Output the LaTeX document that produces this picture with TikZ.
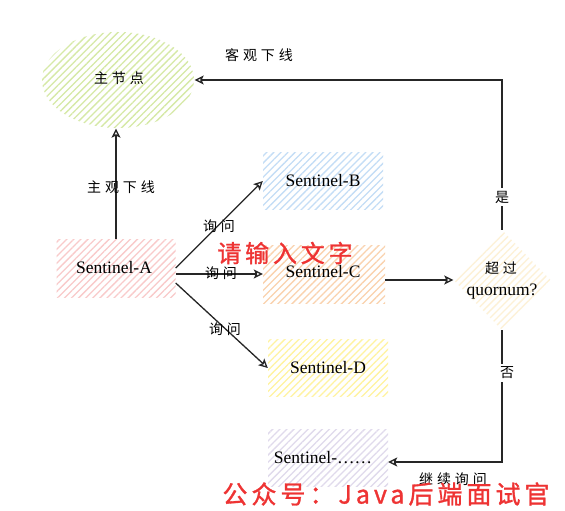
\documentclass[tikz,border=0pt]{standalone}
\usepackage{fontspec}
\setmainfont{Liberation Serif}
\newfontfamily\cjk[LetterSpace=28]{Noto Sans CJK SC}
\newfontfamily\cjkred[LetterSpace=16,FakeBold=1.2]{Noto Sans CJK SC}
\usetikzlibrary{shapes.geometric,patterns.meta,arrows.meta}
\definecolor{hgreen}{HTML}{D6E9A6}
\definecolor{hblue}{HTML}{C4DDF6}
\definecolor{hpink}{HTML}{F9CACA}
\definecolor{hpeach}{HTML}{FAD2AE}
\definecolor{hyellow}{HTML}{FFF3A0}
\definecolor{hlav}{HTML}{E0DAEC}
\definecolor{hcream}{HTML}{FDF1D6}
\definecolor{redtxt}{HTML}{EE3333}
\tikzset{
  hatch/.style={draw=none, pattern={Lines[angle=45,distance=5pt,line width=1.3pt]}, pattern color=#1},
  box/.style={rectangle, minimum width=120pt, minimum height=57pt, inner sep=0pt, font=\fontsize{17.5}{19}\selectfont},
  arr/.style={draw=black!85, line width=1.3pt, -{Stealth[open,length=9pt,width=9pt,inset=2pt]}},
  lab/.style={font=\cjk\fontsize{14}{16}\selectfont, inner sep=1pt},
  txt/.style={font=\fontsize{17.5}{19}\selectfont, inner sep=0pt},
  redlab/.style={font=\cjkred\fontsize{24}{27}\selectfont, text=redtxt, inner sep=0pt},
}
\begin{document}
\begin{tikzpicture}[x=1pt,y=-1pt]
\useasboundingbox[fill=white] (0,0) rectangle (565,511);
% nodes
\node[ellipse, minimum width=152pt, minimum height=96pt, hatch=hgreen] (main) at (118,80) {};
\node[lab] (maint) at (119,78) {主节点};
\node[box, hatch=hpink, minimum width=119pt, minimum height=58pt] (A) at (116,268) {};
\node[txt] (At) at (114,268) {Sentinel-A};
\node[box, hatch=hblue] (B) at (323,181) {Sentinel-B};
\node[box, hatch=hpeach, minimum width=122pt, minimum height=58pt] (C) at (324,274) {};
\node[box, hatch=hyellow] (D) at (328,368) {Sentinel-D};
\node[box, hatch=hlav] (E) at (328,458) {};
\node[txt] (Et) at (323,458) {Sentinel-……};
\node[diamond, minimum width=97pt, minimum height=100pt, inner sep=0pt, hatch=hcream] (Q) at (502,280) {};
\node[lab] (q1) at (501,268) {超过};
\node[txt] (q2) at (502,292) {quornum?};
% connectors
\draw[arr] (A.north) -- (A.north |- main.south);
\draw[arr] (A.east) -- (B.west);
\draw[arr] (A.east |- C.west) -- (C.west);
\draw[arr] ([yshift=-15pt]A.east) -- (D.west);
\draw[arr] (C.east |- Q.west) -- (Q.west);
\draw[arr] (Q.north) -- (Q.north |- main.east) -- (main.east);
\draw[arr] (Q.south) |- ([yshift=-4pt]E.east);
% C text over the arrow
\node[txt] (Ct) at (323,272) {Sentinel-C};
% labels
\node[lab] (l1) at (121,187) {主观下线};
\node[lab] (l2) at (219,226) {询问};
\node[lab] (l3) at (221,273) {询问};
\node[lab] (l4) at (225,329) {询问};
\node[lab] (l5) at (259,55) {客观下线};
\node[lab, fill=white, inner sep=3pt] (l6) at (502,197) {是};
\node[lab, fill=white, inner sep=3pt] (l7) at (507,373) {否};
\node[lab] (l8) at (453,479) {继续询问};
% red texts
\node[redlab] (r1) at (285,253) {请输入文字};
\node[redlab, font=\cjkred\fontsize{25}{28}\selectfont] (r2) at (386,494) {公众号：Java后端面试官};
\end{tikzpicture}
\end{document}
